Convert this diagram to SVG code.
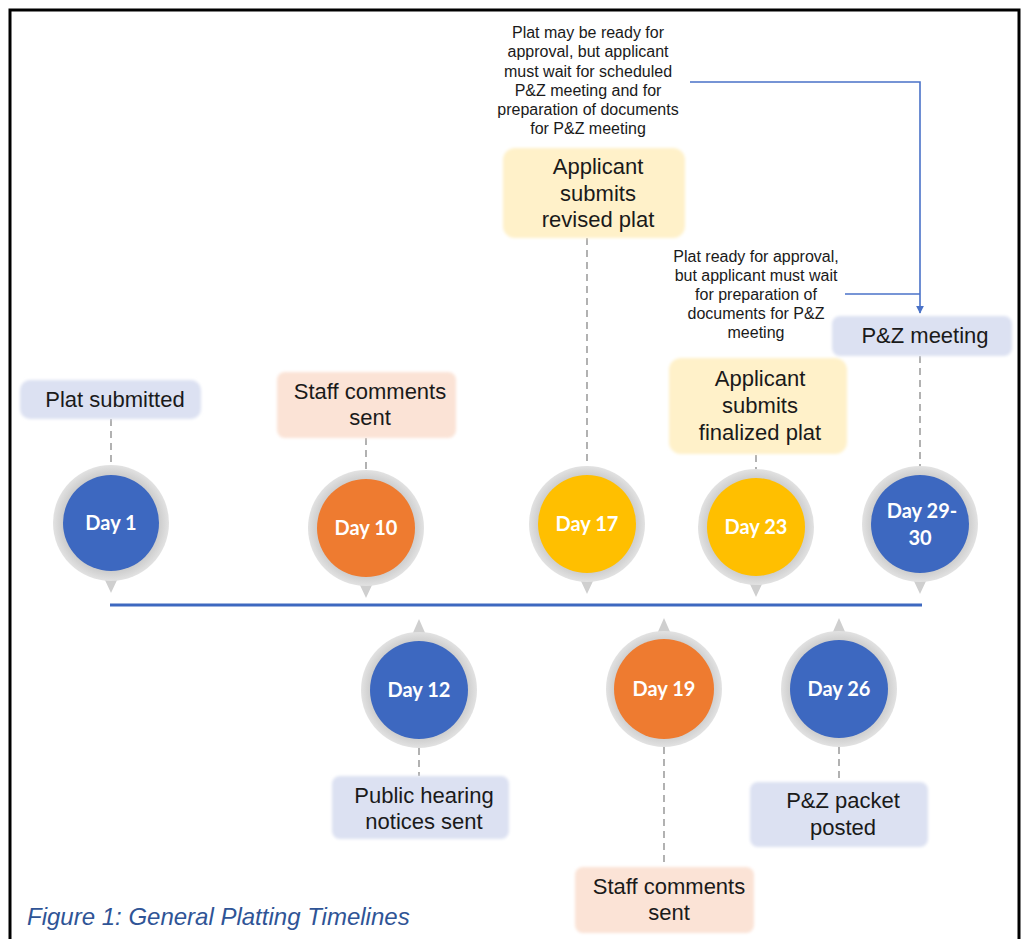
<svg xmlns="http://www.w3.org/2000/svg" width="1024" height="939" viewBox="0 0 1024 939">
<defs>
<style>
.lbl{font-family:"Liberation Sans",Arial,sans-serif;font-size:22px;fill:#1a1a1a;text-anchor:middle}
.note{font-family:"Liberation Sans",Arial,sans-serif;font-size:16px;fill:#1a1a1a;text-anchor:middle}
.day{font-family:Lato,"Open Sans",sans-serif;font-weight:bold;font-size:20px;fill:#ffffff;text-anchor:middle}
.ring{fill:url(#rg)}
.ptr{fill:#CFCFCF}
.blue{fill:#3D68C0}
.orange{fill:#EE7B30}
.yellow{fill:#FFBF00}
.bxB{fill:#DCE1F2}
.bxP{fill:#FBE3D6}
.bxY{fill:#FFF1C9}
.dash{stroke:#7f7f7f;stroke-width:1.2;stroke-dasharray:7 5;fill:none}
.arr{stroke:#4A72C8;stroke-width:1.6;fill:none}
.cap{font-family:"Liberation Sans",Arial,sans-serif;font-style:italic;font-size:24px;fill:#2F5496}
</style>
<radialGradient id="rg" cx="0.5" cy="0.5" r="0.5">
<stop offset="0.8" stop-color="#C9C9C9"/>
<stop offset="1" stop-color="#E2E2E2"/>
</radialGradient>
<filter id="soft" x="-10%" y="-20%" width="120%" height="140%"><feGaussianBlur stdDeviation="1.5"/></filter>
<marker id="ah" viewBox="0 0 10 10" refX="9" refY="5" markerWidth="8" markerHeight="8" markerUnits="userSpaceOnUse" orient="auto"><path d="M0,0 L10,5 L0,10 z" fill="#4A72C8"/></marker>
</defs>
<rect width="1024" height="939" fill="#ffffff"/>
<path d="M10,939 V10 H1019 V939" fill="none" stroke="#000" stroke-width="3"/>

<g id="connectors">
<line x1="110" y1="605" x2="922" y2="605" stroke="#3D68C0" stroke-width="3"/>
<line class="dash" x1="111" y1="419" x2="111" y2="464"/>
<line class="dash" x1="366" y1="438" x2="366" y2="470"/>
<line class="dash" x1="587" y1="238" x2="587" y2="466"/>
<line class="dash" x1="756" y1="455" x2="756" y2="469"/>
<line class="dash" x1="920" y1="356" x2="920" y2="466"/>
<line class="dash" x1="419" y1="748" x2="419" y2="776"/>
<line class="dash" x1="664" y1="747" x2="664" y2="867"/>
<line class="dash" x1="839" y1="747" x2="839" y2="782"/>
<polyline class="arr" points="690,82 920,82 920,313" marker-end="url(#ah)"/>
<line class="arr" x1="845" y1="294" x2="920" y2="294"/>
</g>

<g id="note1">
<text class="note" x="588" y="38">Plat may be ready for</text>
<text class="note" x="588" y="57">approval, but applicant</text>
<text class="note" x="588" y="77">must wait for scheduled</text>
<text class="note" x="588" y="96">P&amp;Z meeting and for</text>
<text class="note" x="588" y="115">preparation of documents</text>
<text class="note" x="588" y="134">for P&amp;Z meeting</text>
</g>
<g id="note2">
<text class="note" x="756" y="262">Plat ready for approval,</text>
<text class="note" x="756" y="281">but applicant must wait</text>
<text class="note" x="756" y="300">for preparation of</text>
<text class="note" x="756" y="319">documents for P&amp;Z</text>
<text class="note" x="756" y="338">meeting</text>
</g>

<g id="label-plat-submitted">
<rect class="bxB" x="20" y="380" width="181" height="39" rx="10" filter="url(#soft)"/>
<text class="lbl" x="115" y="407">Plat submitted</text>
</g>
<g id="label-staff-comments-1">
<rect class="bxP" x="277" y="372" width="179" height="66" rx="8" filter="url(#soft)"/>
<text class="lbl" x="370" y="399">Staff comments</text>
<text class="lbl" x="370" y="425">sent</text>
</g>
<g id="label-revised-plat">
<rect class="bxY" x="503" y="148" width="182" height="90" rx="12" filter="url(#soft)"/>
<text class="lbl" x="598" y="174">Applicant</text>
<text class="lbl" x="598" y="201">submits</text>
<text class="lbl" x="598" y="227">revised plat</text>
</g>
<g id="label-finalized-plat">
<rect class="bxY" x="669" y="358" width="178" height="96" rx="12" filter="url(#soft)"/>
<text class="lbl" x="760" y="386">Applicant</text>
<text class="lbl" x="760" y="413">submits</text>
<text class="lbl" x="760" y="440">finalized plat</text>
</g>
<g id="label-pz-meeting">
<rect class="bxB" x="832" y="316" width="180" height="40" rx="8" filter="url(#soft)"/>
<text class="lbl" x="925" y="343">P&amp;Z meeting</text>
</g>
<g id="label-public-hearing">
<rect class="bxB" x="332" y="776" width="177" height="63" rx="8" filter="url(#soft)"/>
<text class="lbl" x="424" y="803">Public hearing</text>
<text class="lbl" x="424" y="829">notices sent</text>
</g>
<g id="label-pz-packet">
<rect class="bxB" x="750" y="782" width="178" height="65" rx="8" filter="url(#soft)"/>
<text class="lbl" x="843" y="808">P&amp;Z packet</text>
<text class="lbl" x="843" y="835">posted</text>
</g>
<g id="label-staff-comments-2">
<rect class="bxP" x="575" y="867" width="179" height="66" rx="8" filter="url(#soft)"/>
<text class="lbl" x="669" y="894">Staff comments</text>
<text class="lbl" x="669" y="920">sent</text>
</g>

<g id="day1">
<path class="ptr" d="M104,578 L111,593 L118,578 z"/><circle class="ring" cx="111" cy="523" r="58"/>
<circle class="blue" cx="111" cy="523" r="48"/>
<text class="day" x="111" y="530">Day 1</text>
</g>
<g id="day10">
<path class="ptr" d="M359,583 L366,598 L373,583 z"/><circle class="ring" cx="366" cy="528" r="58"/>
<circle class="orange" cx="366" cy="528" r="49"/>
<text class="day" x="366" y="535">Day 10</text>
</g>
<g id="day17">
<path class="ptr" d="M580,579 L587,594 L594,579 z"/><circle class="ring" cx="587" cy="524" r="58"/>
<circle class="yellow" cx="587" cy="524" r="49"/>
<text class="day" x="587" y="531">Day 17</text>
</g>
<g id="day23">
<path class="ptr" d="M749,582 L756,597 L763,582 z"/><circle class="ring" cx="756" cy="527" r="58"/>
<circle class="yellow" cx="756" cy="527" r="49"/>
<text class="day" x="756" y="534">Day 23</text>
</g>
<g id="day29-30">
<path class="ptr" d="M913,579 L920,594 L927,579 z"/><circle class="ring" cx="920" cy="524" r="58"/>
<circle class="blue" cx="920" cy="524" r="49"/>
<text class="day" x="922" y="518">Day 29-</text>
<text class="day" x="920" y="545">30</text>
</g>
<g id="day12">
<path class="ptr" d="M412,635 L419,619 L426,635 z"/><circle class="ring" cx="419" cy="690" r="58"/>
<circle class="blue" cx="419" cy="690" r="49"/>
<text class="day" x="419" y="697">Day 12</text>
</g>
<g id="day19">
<path class="ptr" d="M657,634 L664,618 L671,634 z"/><circle class="ring" cx="664" cy="689" r="58"/>
<circle class="orange" cx="664" cy="689" r="50"/>
<text class="day" x="664" y="696">Day 19</text>
</g>
<g id="day26">
<path class="ptr" d="M832,634 L839,618 L846,634 z"/><circle class="ring" cx="839" cy="689" r="58"/>
<circle class="blue" cx="839" cy="689" r="49"/>
<text class="day" x="839" y="696">Day 26</text>
</g>

<text class="cap" x="27" y="925">Figure 1: General Platting Timelines</text>
</svg>
